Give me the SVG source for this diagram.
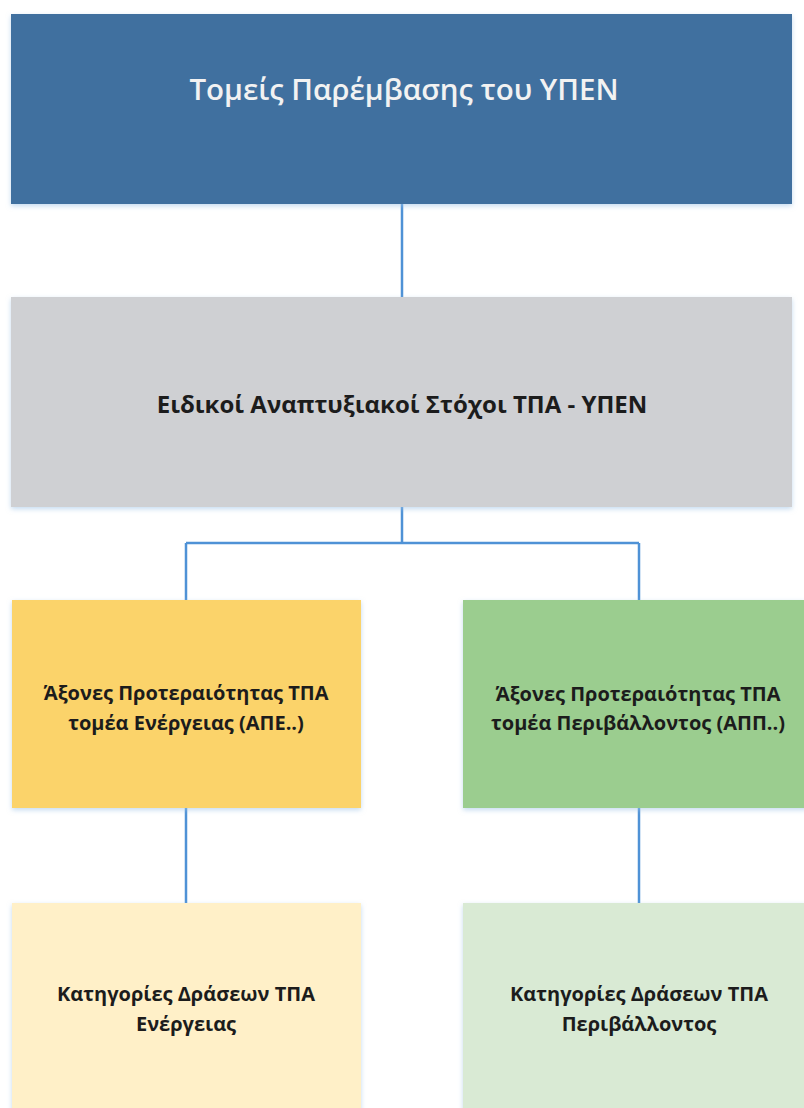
<svg xmlns="http://www.w3.org/2000/svg" width="804" height="1108" viewBox="0 0 804 1108">
  <defs>
    <filter id="sh" x="-5%" y="-5%" width="110%" height="115%">
      <feDropShadow dx="0" dy="2" stdDeviation="2.5" flood-color="#9ec3e6" flood-opacity="0.6"/>
    </filter>
    <style>
      .box { filter: url(#sh); }
      .conn { fill: none; stroke: #4f92d6; stroke-width: 2.5; }
      .t { font-family: "Open Sans", "Noto Sans", "DejaVu Sans", sans-serif; text-anchor: middle; dominant-baseline: central; }
      .title { font-size: 29.5px; font-weight: 600; fill: #f2f2f2; }
      .b { font-weight: bold; fill: #1c1c1c; }
      .s { font-size: 20px; }
    </style>
  </defs>
  <rect width="804" height="1108" fill="#ffffff"/>
  <g id="connectors">
    <path class="conn" d="M402 204 V297"/>
    <path class="conn" d="M402 507 V543 M186 543 H639 M186 543 V600 M639 543 V600"/>
    <path class="conn" d="M186 808 V903"/>
    <path class="conn" d="M639 808 V903"/>
  </g>
  <g id="node-top">
    <rect class="box" x="11" y="14" width="781" height="190" fill="#41709f"/>
    <text class="t title" x="404" y="88">Τομείς Παρέμβασης του ΥΠΕΝ</text>
  </g>
  <g id="node-goals">
    <rect class="box" x="11" y="297" width="781" height="210" fill="#cfd0d3"/>
    <text class="t b" x="402" y="403" font-size="24">Ειδικοί Αναπτυξιακοί Στόχοι ΤΠΑ - ΥΠΕΝ</text>
  </g>
  <g id="node-energy-axes">
    <rect class="box" x="12" y="600" width="349" height="208" fill="#fbd36a"/>
    <text class="t b s" x="186" y="692">Άξονες Προτεραιότητας ΤΠΑ</text>
    <text class="t b s" x="186" y="722">τομέα Ενέργειας (ΑΠΕ..)</text>
  </g>
  <g id="node-env-axes">
    <rect class="box" x="463" y="600" width="345" height="208" fill="#9bcd8f"/>
    <text class="t b s" x="638" y="693">Άξονες Προτεραιότητας ΤΠΑ</text>
    <text class="t b s" x="638" y="722">τομέα Περιβάλλοντος (ΑΠΠ..)</text>
  </g>
  <g id="node-energy-actions">
    <rect class="box" x="12" y="903" width="349" height="215" fill="#fff0c8"/>
    <text class="t b s" x="186" y="993">Κατηγορίες Δράσεων ΤΠΑ</text>
    <text class="t b s" x="186" y="1023">Ενέργειας</text>
  </g>
  <g id="node-env-actions">
    <rect class="box" x="463" y="903" width="345" height="215" fill="#d9ead4"/>
    <text class="t b s" x="639" y="993">Κατηγορίες Δράσεων ΤΠΑ</text>
    <text class="t b s" x="639" y="1023">Περιβάλλοντος</text>
  </g>
</svg>
